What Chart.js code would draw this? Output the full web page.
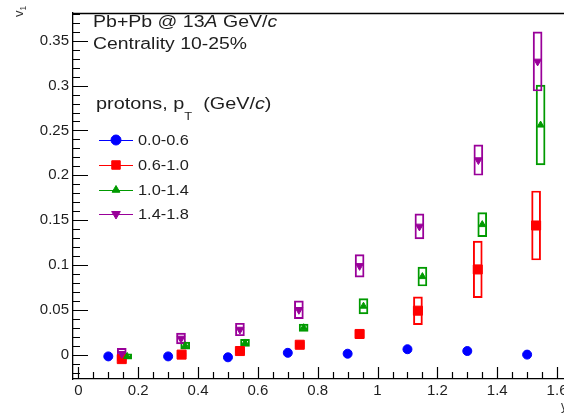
<!DOCTYPE html>
<html>
<head>
<meta charset="utf-8">
<script src="https://cdn.jsdelivr.net/npm/chart.js@4.4.1/dist/chart.umd.min.js"></script>
<style>
  html, body { margin: 0; padding: 0; background: #fff; overflow: hidden; }
  #wrap { position: relative; width: 580px; height: 413px; }
</style>
</head>
<body>
<div id="wrap"><canvas id="c"></canvas></div>
<script>
// proton v1 vs rapidity, Pb+Pb 13A GeV/c, centrality 10-25%
const ptBins = ['0.0-0.6', '0.6-1.0', '1.0-1.4', '1.4-1.8'];
const colors = ['#0000ff', '#ff0000', '#009a00', '#990099'];

const blueX = [0.1, 0.3, 0.5, 0.7, 0.9, 1.1, 1.3, 1.5];
const blueV1 = [-0.002, -0.002, -0.003, 0.002, 0.001, 0.006, 0.004, 0.000];

const redX = [0.145, 0.345, 0.54, 0.74, 0.94, 1.135, 1.335, 1.53];
const redV1 = [-0.005, 0.000, 0.004, 0.011, 0.023, 0.049, 0.095, 0.144];
const redSys = [0.002, 0.002, 0.002, 0.003, 0.004, 0.0155, 0.0315, 0.0385];

const greenX = [0.163, 0.357, 0.557, 0.753, 0.953, 1.15, 1.35, 1.545];
const greenV1 = [-0.002, 0.010, 0.013, 0.030, 0.054, 0.087, 0.145, 0.256];
const greenSys = [0.003, 0.004, 0.004, 0.004, 0.0085, 0.0105, 0.0135, 0.0445];

const purpleX = [0.145, 0.343, 0.54, 0.737, 0.94, 1.14, 1.337, 1.535];
const purpleV1 = [0.001, 0.018, 0.028, 0.050, 0.099, 0.143, 0.217, 0.327];
const purpleSys = [0.006, 0.006, 0.007, 0.010, 0.0125, 0.014, 0.017, 0.033];

const xRange = [-0.018, 1.65];
const yRange = [-0.0272, 0.381];

const FONT = '"Liberation Sans", Arial, sans-serif';
const INK = '#1e1e1e';

function pts(xs, ys) {
  return xs.map((x, i) => ({ x: x, y: ys[i] }));
}
function boxes(xs, ys, sys) {
  return xs.map((x, i) => ({ x: x, y: [ys[i] - sys[i], ys[i] + sys[i]] }));
}
function markerSet(label, xs, ys, color, style, r, rot) {
  return {
    type: 'scatter', label: label, data: pts(xs, ys),
    backgroundColor: color, borderColor: color, borderWidth: 1,
    pointStyle: style, pointRadius: r, pointRotation: rot || 0
  };
}
function boxSet(xs, ys, sys, color) {
  return {
    type: 'bar', data: boxes(xs, ys, sys), stack: 'sys',
    backgroundColor: 'rgba(0,0,0,0)', borderColor: color, borderWidth: 1.3,
    borderSkipped: false, barThickness: 9, grouped: true
  };
}

// text runs [text, italic, sizeScale, dy], stretched horizontally by sx
function runs(ctx, x, y, parts, size, sx) {
  ctx.save();
  ctx.translate(x, y);
  ctx.scale(sx || 1, 1);
  let cx = 0;
  parts.forEach(p => {
    const s = size * (p[2] || 1);
    ctx.font = (p[1] ? 'italic ' : '') + s + 'px ' + FONT;
    ctx.fillText(p[0], cx, p[3] || 0);
    cx += ctx.measureText(p[0]).width;
  });
  ctx.restore();
}

const decor = {
  id: 'decor',
  afterDraw(chart) {
    const ctx = chart.ctx;
    const a = chart.chartArea;
    const xs = chart.scales.x, ys = chart.scales.y;
    ctx.save();
    ctx.strokeStyle = '#000';
    ctx.lineWidth = 1.3;
    // top frame line
    ctx.beginPath();
    ctx.moveTo(a.left, a.top + 0.5);
    ctx.lineTo(a.right, a.top + 0.5);
    ctx.stroke();
    // inward ticks
    ctx.lineWidth = 1.2;
    ctx.beginPath();
    for (let k = Math.ceil(yRange[0] / 0.01); k * 0.01 <= yRange[1]; k++) {
      const py = Math.round(ys.getPixelForValue(k * 0.01)) + 0.5;
      const len = (k % 5 === 0) ? 15 : 7;
      ctx.moveTo(a.left, py); ctx.lineTo(a.left + len, py);
    }
    for (let k = Math.ceil(xRange[0] / 0.05); k * 0.05 <= xRange[1]; k++) {
      const px = Math.round(xs.getPixelForValue(k * 0.05)) + 0.5;
      const len = (k % 4 === 0) ? 12 : 7;
      ctx.moveTo(px, a.bottom); ctx.lineTo(px, a.bottom - len);
    }
    ctx.stroke();

    ctx.fillStyle = INK;
    ctx.textBaseline = 'alphabetic';
    ctx.textAlign = 'left';
    runs(ctx, 93, 27, [['Pb+Pb @ 13'], ['A', true], [' GeV/'], ['c', true]], 16, 1.22);
    runs(ctx, 93, 49, [['Centrality 10-25%']], 16, 1.21);
    runs(ctx, 96, 109, [['protons, p'], ['T', false, 0.65, 11], ['  (GeV/'], ['c', true], [')']], 16, 1.24);

    // legend
    const rowY = [140, 165, 190, 214];
    const styles = [['circle', 5, 0], ['rect', 6, 0], ['triangle', 4.5, 0], ['triangle', 5, 180]];
    ptBins.forEach((lab, i) => {
      ctx.strokeStyle = colors[i];
      ctx.fillStyle = colors[i];
      ctx.lineWidth = 1;
      ctx.beginPath();
      ctx.moveTo(99, rowY[i] + 0.5); ctx.lineTo(133, rowY[i] + 0.5);
      ctx.stroke();
      Chart.helpers.drawPoint(ctx, { pointStyle: styles[i][0], radius: styles[i][1], rotation: styles[i][2], borderWidth: 1 }, 116, rowY[i]);
      ctx.fillStyle = INK;
      ctx.textBaseline = 'middle';
      runs(ctx, 138, rowY[i] + 1, [[lab]], 15, 1.09);
    });

    // axis titles
    ctx.textBaseline = 'alphabetic';
    ctx.fillStyle = '#333';
    ctx.save();
    ctx.translate(23, 17);
    ctx.rotate(-Math.PI / 2);
    runs(ctx, 0, 0, [['v'], ['1', false, 0.65, 3]], 13, 1);
    ctx.restore();
    ctx.font = '12px ' + FONT;
    ctx.fillText('y', 561, 410);
    ctx.restore();
  }
};

const tickFont = { family: FONT, size: 15 };
const fmt = v => String(+(+v).toFixed(3));

new Chart(document.getElementById('c'), {
  type: 'scatter',
  data: {
    datasets: [
      markerSet(ptBins[3], purpleX, purpleV1, colors[3], 'triangle', 4.5, 180),
      markerSet(ptBins[2], greenX, greenV1, colors[2], 'triangle', 4, 0),
      markerSet(ptBins[1], redX, redV1, colors[1], 'rect', 6.4, 0),
      markerSet(ptBins[0], blueX, blueV1, colors[0], 'circle', 4.5, 0),
      boxSet(purpleX, purpleV1, purpleSys, colors[3]),
      boxSet(greenX, greenV1, greenSys, colors[2]),
      boxSet(redX, redV1, redSys, colors[1])
    ]
  },
  options: {
    responsive: true,
    maintainAspectRatio: false,
    animation: false,
    layout: { padding: { top: 4, right: 8, left: 0, bottom: 0 } },
    plugins: { legend: { display: false }, tooltip: { enabled: false } },
    scales: {
      x: {
        type: 'linear', min: xRange[0], max: xRange[1], offset: false,
        grid: { display: true, drawOnChartArea: false, drawTicks: false, offset: false },
        border: { display: true, color: '#000', width: 1.3 },
        ticks: { stepSize: 0.2, includeBounds: false, font: tickFont, color: INK, padding: 3, maxRotation: 0, callback: fmt },
        afterFit(s) { s.height = 34; }
      },
      y: {
        type: 'linear', min: yRange[0], max: yRange[1], stacked: false,
        grid: { display: true, drawOnChartArea: false, drawTicks: false },
        border: { display: true, color: '#000', width: 1.3 },
        ticks: { stepSize: 0.05, includeBounds: false, font: tickFont, color: INK, padding: 4, callback: fmt },
        afterFit(s) { s.width = 73; }
      }
    }
  },
  plugins: [decor]
});
</script>
</body>
</html>
